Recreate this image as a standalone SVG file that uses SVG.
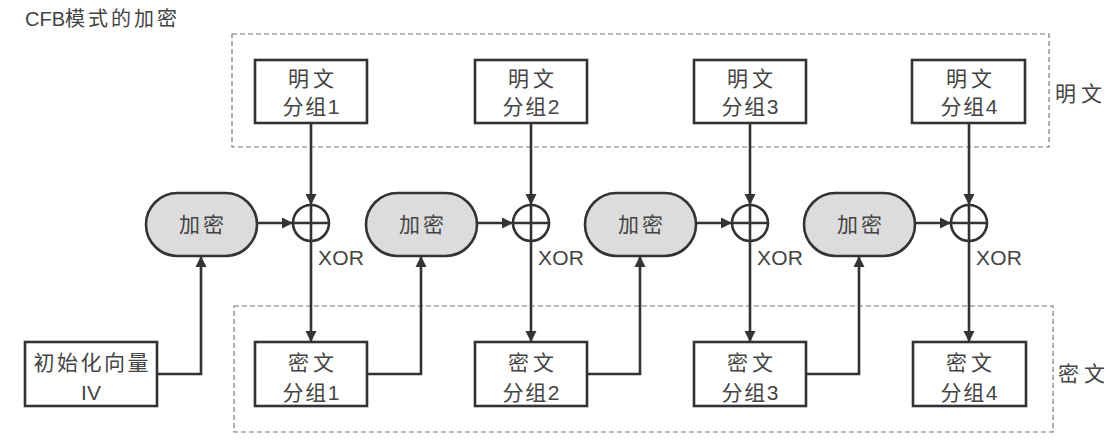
<svg xmlns="http://www.w3.org/2000/svg" width="1106" height="441" viewBox="0 0 1106 441">
<defs>
<style>
.t{font-family:"Liberation Sans","Noto Sans CJK SC",sans-serif;font-size:21px;fill:#444;text-anchor:middle}
.tl{font-family:"Liberation Sans","Noto Sans CJK SC",sans-serif;font-size:21px;fill:#444}
.box{fill:#fff;stroke:#333;stroke-width:2.6}
.pill{fill:#dcdcdc;stroke:#333;stroke-width:2.6}
.dash{fill:none;stroke:#777;stroke-width:1.2;stroke-dasharray:5 3}
.ln{fill:none;stroke:#333;stroke-width:2.6}
.arr{fill:none;stroke:#333;stroke-width:2.6;marker-end:url(#ah)}
</style>
<marker id="ah" viewBox="0 0 10 10" refX="10" refY="5" markerWidth="4.4" markerHeight="4.4" markerUnits="strokeWidth" orient="auto">
<path d="M0,0 L10,5 L0,10 Z" fill="#333"/>
</marker>
</defs>
<rect width="1106" height="441" fill="#fff"/>
<text class="tl" x="25" y="26" style="font-size:20px">CFB<tspan letter-spacing="3">模式的加密</tspan></text>

<g id="plain-group">
<rect class="dash" x="232" y="34" width="817" height="113"/>
<text class="tl" x="1055" y="101" textLength="47" lengthAdjust="spacing">明文</text>
</g>
<g id="cipher-group">
<rect class="dash" x="234" y="306" width="819" height="126"/>
<text class="tl" x="1058" y="381" textLength="47" lengthAdjust="spacing">密文</text>
</g>

<g id="connectors">
<path class="arr" d="M311,123 V205"/>
<path class="arr" d="M531,123 V205"/>
<path class="arr" d="M750,123 V205"/>
<path class="arr" d="M969,123 V205"/>
<path class="arr" d="M311,241 V342"/>
<path class="arr" d="M531,241 V342"/>
<path class="arr" d="M750,241 V342"/>
<path class="arr" d="M969,241 V342"/>
<path class="arr" d="M257,223 H293"/>
<path class="arr" d="M477,223 H513"/>
<path class="arr" d="M696,223 H732"/>
<path class="arr" d="M915,223 H951"/>
<path class="arr" d="M157,374 H201 V256"/>
<path class="arr" d="M367,374 H421 V256"/>
<path class="arr" d="M587,374 H640 V256"/>
<path class="arr" d="M806,374 H859 V256"/>
</g>

<g id="iv"><rect class="box" x="25" y="342" width="132" height="64"/>
<text class="t" x="91" y="370" textLength="115" lengthAdjust="spacing">初始化向量</text>
<text class="t" x="91" y="400">IV</text></g>

<g id="p1"><rect class="box" x="255" y="60" width="112" height="63"/><text class="t" x="311" y="86" textLength="46" lengthAdjust="spacing">明文</text><text class="t" x="311" y="114" textLength="57" lengthAdjust="spacing">分组1</text></g>
<g id="p2"><rect class="box" x="475" y="60" width="112" height="63"/><text class="t" x="531" y="86" textLength="46" lengthAdjust="spacing">明文</text><text class="t" x="531" y="114" textLength="57" lengthAdjust="spacing">分组2</text></g>
<g id="p3"><rect class="box" x="694" y="60" width="112" height="63"/><text class="t" x="750" y="86" textLength="46" lengthAdjust="spacing">明文</text><text class="t" x="750" y="114" textLength="57" lengthAdjust="spacing">分组3</text></g>
<g id="p4"><rect class="box" x="912" y="60" width="113" height="63"/><text class="t" x="969" y="86" textLength="46" lengthAdjust="spacing">明文</text><text class="t" x="969" y="114" textLength="57" lengthAdjust="spacing">分组4</text></g>

<g id="c1"><rect class="box" x="255" y="342" width="112" height="64"/><text class="t" x="311" y="370" textLength="46" lengthAdjust="spacing">密文</text><text class="t" x="311" y="400" textLength="57" lengthAdjust="spacing">分组1</text></g>
<g id="c2"><rect class="box" x="475" y="342" width="112" height="64"/><text class="t" x="531" y="370" textLength="46" lengthAdjust="spacing">密文</text><text class="t" x="531" y="400" textLength="57" lengthAdjust="spacing">分组2</text></g>
<g id="c3"><rect class="box" x="694" y="342" width="112" height="64"/><text class="t" x="750" y="370" textLength="46" lengthAdjust="spacing">密文</text><text class="t" x="750" y="400" textLength="57" lengthAdjust="spacing">分组3</text></g>
<g id="c4"><rect class="box" x="913" y="342" width="113" height="64"/><text class="t" x="969" y="370" textLength="46" lengthAdjust="spacing">密文</text><text class="t" x="969" y="400" textLength="57" lengthAdjust="spacing">分组4</text></g>

<g id="e1"><rect class="pill" x="146" y="193" width="111" height="63" rx="31.5"/><text class="t" x="201.5" y="232" textLength="45" lengthAdjust="spacing">加密</text></g>
<g id="e2"><rect class="pill" x="366" y="193" width="111" height="63" rx="31.5"/><text class="t" x="421.5" y="232" textLength="45" lengthAdjust="spacing">加密</text></g>
<g id="e3"><rect class="pill" x="585" y="193" width="111" height="63" rx="31.5"/><text class="t" x="640.5" y="232" textLength="45" lengthAdjust="spacing">加密</text></g>
<g id="e4"><rect class="pill" x="804" y="193" width="111" height="63" rx="31.5"/><text class="t" x="859.5" y="232" textLength="45" lengthAdjust="spacing">加密</text></g>

<g id="x1"><circle class="ln" cx="311" cy="223" r="18"/><path class="ln" d="M293,223 H329 M311,205 V241"/><text class="tl" x="318" y="265" textLength="46" lengthAdjust="spacing">XOR</text></g>
<g id="x2"><circle class="ln" cx="531" cy="223" r="18"/><path class="ln" d="M513,223 H549 M531,205 V241"/><text class="tl" x="538" y="265" textLength="46" lengthAdjust="spacing">XOR</text></g>
<g id="x3"><circle class="ln" cx="750" cy="223" r="18"/><path class="ln" d="M732,223 H768 M750,205 V241"/><text class="tl" x="757" y="265" textLength="46" lengthAdjust="spacing">XOR</text></g>
<g id="x4"><circle class="ln" cx="969" cy="223" r="18"/><path class="ln" d="M951,223 H987 M969,205 V241"/><text class="tl" x="976" y="265" textLength="46" lengthAdjust="spacing">XOR</text></g>
</svg>
